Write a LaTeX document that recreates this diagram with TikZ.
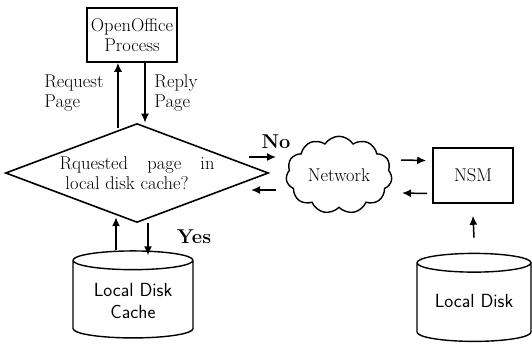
\documentclass[tikz,border=0pt]{standalone}
\usepackage{fontspec}
\usepackage{tikz}
\usetikzlibrary{arrows.meta,shapes.geometric,shapes.symbols}
\tikzset{
  every node/.style={font=\fontsize{18.5}{20}\selectfont},
  box/.style={draw,line width=1.6pt,inner sep=1pt,align=center},
  disk/.style={draw,line width=1.4pt,cylinder,shape border rotate=90,aspect=0.22,
    font=\sffamily\fontsize{19}{22}\selectfont,align=center},
  arr/.style={line width=1.5pt,-{Latex[length=9pt,width=8pt]}},
  yesno/.style={font=\bfseries\fontsize{20}{22}\selectfont},
}

\begin{document}
\begin{tikzpicture}[x=1pt,y=-1pt]
\useasboundingbox (0,0) rectangle (532,351);

\node[box,minimum width=90pt,minimum height=54pt] (proc) at (132,35) {OpenOffice\\Process};
\node[box,diamond,aspect=2.66,inner sep=0pt,minimum width=263pt,minimum height=99pt] (query) at (137,173)
  {\makebox[155pt][s]{Rquested page in}\\[0pt]local disk cache?\hspace*{20pt}};
\node[disk,minimum width=120pt,minimum height=87pt] (cache) at (133,301) {Local Disk\\Cache};
\node[draw,line width=1.4pt,cloud,cloud puffs=11,cloud puff arc=115,aspect=1.5,
  minimum width=106pt,minimum height=72pt] (net) at (339,175) {Network};
\node[box,minimum width=80pt,minimum height=55pt] (nsm) at (473,175.5) {NSM};
\node[disk,minimum width=114pt,minimum height=88pt] (disk) at (474,304) {\raisebox{7pt}{Local Disk}};

\draw[arr] ([xshift=-14pt,yshift=-65pt]proc.south) -- ([xshift=-14pt]proc.south);
\draw[arr] ([xshift=13pt]proc.south) -- ([xshift=13pt]proc.south |- query.north);
\node[align=left] (req) at (74,93) {Request\\Page};
\node[align=left] (rep) at (176,93) {Reply\\Page};

\draw[arr] ([xshift=-17pt]cache.north) -- ([xshift=-17pt,yshift=33pt]cache.north);
\draw[arr] ([xshift=11pt]query.south) -- ([xshift=11pt,yshift=-32pt]query.south);
\node[yesno] (yes) at (194,237) {Yes};

\draw[arr] ([shift={(-37pt,18pt)}]net.west) -- ([shift={(-10pt,18pt)}]net.west);
\draw[arr] ([shift={(-10pt,-15pt)}]net.west) -- ([shift={(-35pt,-15pt)}]net.west);
\node[yesno] (no) at (276,142) {No};

\draw[arr] ([shift={(9pt,15pt)}]net.east) -- ([shift={(-6pt,15pt)}]nsm.west);
\draw[arr] ([shift={(-5pt,-18pt)}]nsm.west) -- ([shift={(10pt,-18pt)}]net.east);

\draw[arr] ([yshift=15pt]disk.north) -- ([yshift=-12pt]nsm.south);
\end{tikzpicture}
\end{document}
